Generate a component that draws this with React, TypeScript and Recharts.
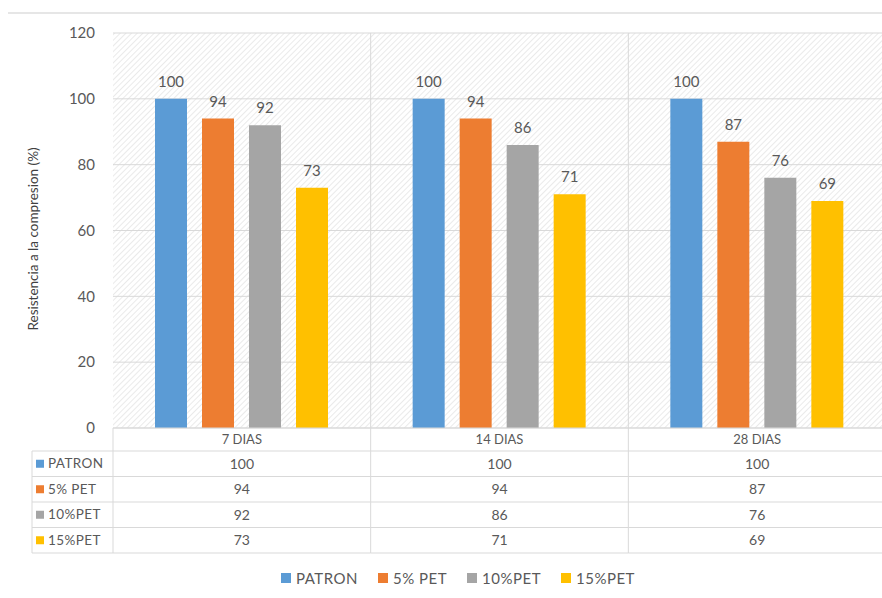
import { BarChart, Bar, XAxis, YAxis, CartesianGrid, Legend } from 'recharts'

const categories = ['7 DIAS', '14 DIAS', '28 DIAS']
const patron = [100, 100, 100]
const pet5 = [94, 94, 87]
const pet10 = [92, 86, 76]
const pet15 = [73, 71, 69]
const yTicks = [0, 20, 40, 60, 80, 100, 120]

const seriesKeys = ['patron', 'pet5', 'pet10', 'pet15']
const seriesNames = ['PATRON', '5% PET', '10%PET', '15%PET']
const seriesColors = ['#5B9BD5', '#ED7D31', '#A5A5A5', '#FFC000']
const seriesValues = [patron, pet5, pet10, pet15]

const data = categories.map((name, i) => ({
  name,
  patron: patron[i],
  pet5: pet5[i],
  pet10: pet10[i],
  pet15: pet15[i],
}))

const W = 882
const H = 598
const YAXIS_W = 113
const MARGIN = { top: 33, right: -4, left: 0, bottom: 5 }
const LEGEND_H = 30
const XAXIS_H = 135
const PLOT_H = H - MARGIN.top - MARGIN.bottom - LEGEND_H - XAXIS_H
const BAND = (W - YAXIS_W - MARGIN.left - MARGIN.right) / categories.length
const HEADER_H = 23
const ROW_H = 25.5
const LABEL_COL_LEFT = 32
const GRID = '#d9d9d9'
const TEXT = '#595959'
const FONT = 'Lato, "Open Sans", sans-serif'

// column of the data table under each category, drawn as the x-axis tick
const TableTick = (props: any) => {
  const { x, y, payload, index } = props
  const left = x - BAND / 2
  const right = x + BAND / 2
  const bottom = y + HEADER_H + ROW_H * seriesKeys.length
  return (
    <g fontFamily={FONT}>
      {index === 0 && (
        <g>
          <line x1={left} y1={y} x2={left} y2={bottom} stroke={GRID} />
          <line x1={LABEL_COL_LEFT} y1={y + HEADER_H} x2={LABEL_COL_LEFT} y2={bottom} stroke={GRID} />
          {seriesNames.map((s, r) => {
            const cy = y + HEADER_H + ROW_H * r + ROW_H / 2
            return (
              <g key={s}>
                <line x1={LABEL_COL_LEFT} y1={y + HEADER_H + ROW_H * r} x2={left} y2={y + HEADER_H + ROW_H * r} stroke={GRID} />
                <rect x={LABEL_COL_LEFT + 4} y={cy - 4} width={8} height={8} fill={seriesColors[r]} />
                <text x={LABEL_COL_LEFT + 16} y={cy + 4.5} fontSize={13.5} letterSpacing={0.4} fill={TEXT}>{s}</text>
              </g>
            )
          })}
          <line x1={LABEL_COL_LEFT} y1={bottom} x2={left} y2={bottom} stroke={GRID} />
        </g>
      )}
      <line x1={right} y1={y - PLOT_H} x2={right} y2={bottom} stroke={GRID} />
      <text x={x} y={y + 15.5} textAnchor="middle" fontSize={13} fill={TEXT}>{payload.value}</text>
      {seriesValues.map((vals, r) => {
        const top = y + HEADER_H + ROW_H * r
        return (
          <g key={r}>
            <line x1={left} y1={top} x2={right} y2={top} stroke={GRID} />
            <text x={x} y={top + ROW_H / 2 + 5} textAnchor="middle" fontSize={14} fill={TEXT}>{vals[index]}</text>
          </g>
        )
      })}
      <line x1={left} y1={bottom} x2={right} y2={bottom} stroke={GRID} />
    </g>
  )
}

const renderLegend = () => (
  <div style={{ height: LEGEND_H, display: 'flex', justifyContent: 'center', alignItems: 'center', gap: 20, fontFamily: FONT, fontSize: 15, letterSpacing: 0.5, color: TEXT, paddingLeft: 30 }}>
    {seriesNames.map((s, i) => (
      <span key={s} style={{ display: 'flex', alignItems: 'center' }}>
        <span style={{ width: 10, height: 10, background: seriesColors[i], marginRight: 5, display: 'inline-block' }} />
        {s}
      </span>
    ))}
  </div>
)

export default function App() {
  return (
    <div style={{ position: 'absolute', left: 0, top: 0, width: W, height: H, background: '#fff', overflow: 'hidden' }}>
      <div style={{ position: 'absolute', left: 8, right: 0, top: 12, borderTop: '2px solid #e6e6e6' }} />
      <BarChart width={W} height={H} data={data} margin={MARGIN} barSize={32} barGap={15}>
        <defs>
          <pattern id="hatch" width="4" height="4" patternUnits="userSpaceOnUse" patternTransform="rotate(45)">
            <rect width="4" height="4" fill="#ffffff" />
            <line x1="0" y1="0" x2="0" y2="4" stroke="#e3e3e3" strokeWidth="1.5" />
          </pattern>
        </defs>
        <CartesianGrid vertical={false} stroke={GRID} fill="url(#hatch)" />
        <XAxis
          dataKey="name"
          height={XAXIS_H}
          tickLine={false}
          axisLine={{ stroke: GRID }}
          tickSize={0}
          tickMargin={0}
          interval={0}
          tick={<TableTick />}
        />
        <YAxis
          width={YAXIS_W}
          domain={[0, 120]}
          ticks={yTicks}
          axisLine={false}
          tickLine={false}
          tickMargin={12}
          tick={{ fill: TEXT, fontSize: 15, fontFamily: FONT }}
          label={{ value: 'Resistencia a la compresion (%)', angle: -90, position: 'insideLeft', dx: 28, dy: 100, style: { fill: '#404040', fontSize: 13.5, fontFamily: FONT } }}
        />
        <Legend verticalAlign="bottom" height={LEGEND_H} content={renderLegend} />
        {seriesKeys.map((k, i) => (
          <Bar
            key={k}
            dataKey={k}
            name={seriesNames[i]}
            fill={seriesColors[i]}
            isAnimationActive={false}
            label={{ position: 'top', fill: TEXT, fontSize: 15, fontFamily: FONT, offset: 12 }}
          />
        ))}
      </BarChart>
    </div>
  )
}
